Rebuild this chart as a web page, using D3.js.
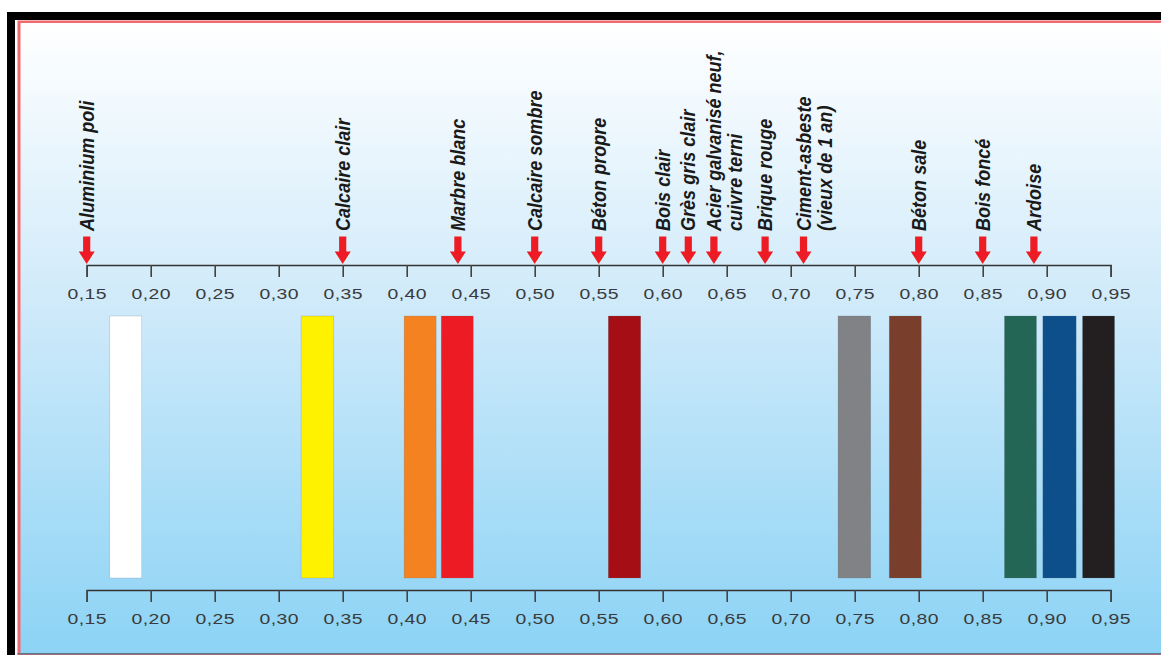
<!DOCTYPE html>
<html>
<head>
<meta charset="utf-8">
<script src="https://cdn.jsdelivr.net/npm/d3@7"></script>
<style>
html,body{margin:0;padding:0;background:#ffffff;overflow:hidden;}
svg{display:block;}
</style>
</head>
<body>
<svg id="chart" width="1161" height="655"></svg>
<script>
// ---- data ----
const materials = ["Aluminium poli","Calcaire clair","Marbre blanc","Calcaire sombre","Béton propre","Bois clair","Grès gris clair","Acier galvanisé neuf,|cuivre terni","Brique rouge","Ciment-asbeste|(vieux de 1 an)","Béton sale","Bois foncé","Ardoise"];
const absorption = [0.15,0.35,0.44,0.50,0.55,0.60,0.62,0.64,0.68,0.71,0.80,0.85,0.89];
const tickValues = [0.15,0.20,0.25,0.30,0.35,0.40,0.45,0.50,0.55,0.60,0.65,0.70,0.75,0.80,0.85,0.90,0.95];
const barFrom = [0.168,0.3175,0.398,0.427,0.5575,0.737,0.777,0.867,0.897,0.928];
const barTo   = [0.193,0.343,0.423,0.452,0.5828,0.7625,0.802,0.892,0.923,0.953];
const barColors = ["#ffffff","#fff200","#f58220","#ed1c24","#a50e14","#808285","#7a3e2c","#236656","#0d4f8b","#231f20"];

// ---- drawing ----
const svg = d3.select("#chart");
const W = 1161, H = 655;

const defs = svg.append("defs");
const grad = defs.append("linearGradient").attr("id","bg").attr("x1",0).attr("y1",0).attr("x2",0).attr("y2",1);
grad.append("stop").attr("offset","0%").attr("stop-color","#ffffff");
grad.append("stop").attr("offset","45%").attr("stop-color","#cfeafa");
grad.append("stop").attr("offset","100%").attr("stop-color","#8cd3f5");

// frame
svg.append("rect").attr("x",7).attr("y",12).attr("width",W-7).attr("height",H-12).attr("fill","#000");
svg.append("rect").attr("x",15).attr("y",20).attr("width",W-15).attr("height",H-20).attr("fill","#ffffff");
svg.append("rect").attr("x",17.5).attr("y",20.5).attr("width",W-17.5).attr("height",H-20.5).attr("fill","#ef6a6e");
svg.append("rect").attr("x",20.5).attr("y",23).attr("width",W-20.5).attr("height",630).attr("fill","url(#bg)");
svg.append("rect").attr("x",17.5).attr("y",653).attr("width",W-17.5).attr("height",1.5).attr("fill","#5d7486");

const x = d3.scaleLinear().domain([0.15,0.95]).range([86.7,1110.7]);
const fmt = v => d3.format(".2f")(v).replace(".",",");

function styleAxis(g){
  g.select(".domain").attr("stroke","#333").attr("stroke-width",1.6);
  g.selectAll(".tick line").attr("stroke","#444").attr("stroke-width",1.6);
  g.selectAll(".tick text")
    .attr("fill","#3a3a3a")
    .attr("transform","scale(1.25,1)")
    .style("font-family","'Liberation Sans', Arial, sans-serif")
    .style("font-size","15.5px")
    .style("letter-spacing","0.3px");
}

const axisTop = d3.axisBottom(x).tickValues(tickValues).tickFormat(fmt).tickSize(12).tickSizeOuter(12).tickPadding(11);
svg.append("g").attr("transform","translate(0,265)").call(axisTop).call(styleAxis);

const axisBot = d3.axisBottom(x).tickValues(tickValues).tickFormat(fmt).tickSize(12).tickSizeOuter(12).tickPadding(11);
svg.append("g").attr("transform","translate(0,590)").call(axisBot).call(styleAxis);

// bars
const barTop = 316, barBottom = 578;
svg.append("g").selectAll("rect").data(barFrom).join("rect")
  .attr("x", d => x(d))
  .attr("width", (d,i) => x(barTo[i]) - x(d))
  .attr("y", barTop)
  .attr("height", barBottom - barTop)
  .attr("fill", (d,i) => barColors[i])
  .attr("stroke", "rgba(90,110,120,0.35)")
  .attr("stroke-width", 0.6);

// arrows
const arrowTip = 264;
const arrowG = svg.append("g");
arrowG.selectAll("path").data(absorption).join("path")
  .attr("d", d => {
    const cx = x(d);
    return `M${cx-3.6},236.5 L${cx+3.6},236.5 L${cx+3.6},251.5 L${cx+8},251.5 L${cx},${arrowTip} L${cx-8},251.5 L${cx-3.6},251.5 Z`;
  })
  .attr("fill","#ed1c24");

// labels
const labG = svg.append("g");
materials.forEach((m,i) => {
  const lines = m.split("|");
  const cx = x(absorption[i]);
  lines.forEach((ln,j) => {
    labG.append("text")
      .attr("transform", `translate(${cx + 7 + j*21},231) rotate(-90) scale(0.86,1)`)
      .attr("text-anchor","start")
      .style("font-family","'Liberation Sans', Arial, sans-serif")
      .style("font-size","21px")
      .style("font-weight","bold")
      .style("font-style","italic")
      .attr("fill","#1a1a1a")
      .text(ln);
  });
});
</script>
</body>
</html>
